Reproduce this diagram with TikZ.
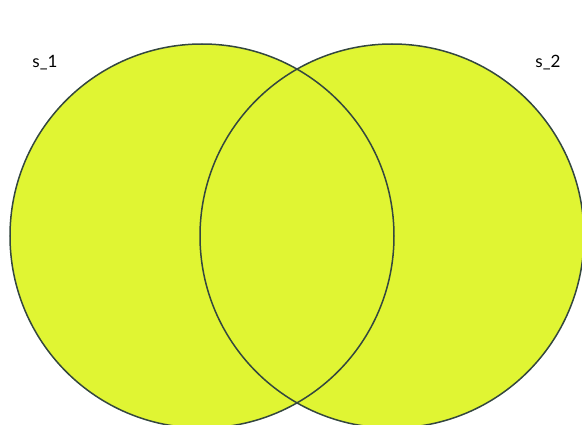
\documentclass[tikz,border=0pt]{standalone}
\usepackage{fontspec}
\setmainfont{Lato}
\definecolor{vfill}{HTML}{E0F533}
\definecolor{vline}{HTML}{34473F}
\begin{document}
\begin{tikzpicture}[x=1pt,y=1pt,
  setfill/.style={fill=vfill},
  setline/.style={draw=vline,line width=1.5pt},
  setlabel/.style={font=\fontsize{17}{19}\selectfont,text=black}]
\useasboundingbox (0,0) rectangle (582,-425);
\clip (0,0) rectangle (582,-425);
\coordinate (c1) at (202,-236);
\coordinate (c2) at (392,-236);
\fill[setfill] (c1) circle (192);
\fill[setfill] (c2) circle (192);
\draw[setline] (c1) circle (192);
\draw[setline] (c2) circle (192);
\node[setlabel] (l1) at (45,-63) {s\_1};
\node[setlabel] (l2) at (548,-63) {s\_2};
\end{tikzpicture}
\end{document}
